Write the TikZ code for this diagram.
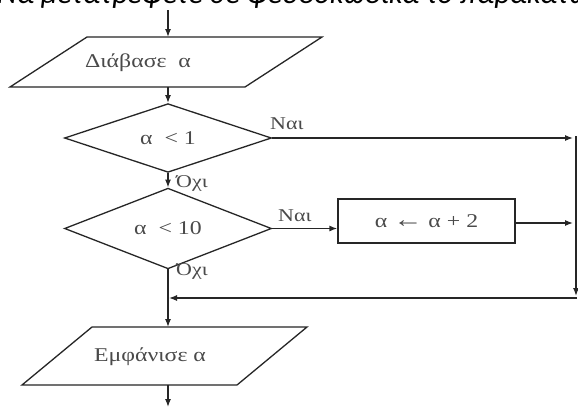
\documentclass[tikz,border=0pt]{standalone}
\usepackage{fontspec}
\setmainfont{Liberation Serif}
\newfontfamily\flowfont[FakeStretch=1.22]{Liberation Serif}
\newfontfamily\titlefont{Carlito}
\usetikzlibrary{shapes.geometric,arrows.meta}
\definecolor{linec}{HTML}{262626}
\definecolor{txtc}{HTML}{4a4a4a}
\begin{document}
\begin{tikzpicture}[x=1pt,y=-1pt,
  every node/.style={inner sep=0pt},
  flow/.style={font=\flowfont\fontsize{19.5}{22}\selectfont, text=txtc},
  lbl/.style={font=\flowfont\fontsize{18}{20}\selectfont, text=txtc},
  shapeline/.style={draw=linec, line width=1.3pt},
  arr/.style={draw=linec, line width=1.3pt, -{Latex[length=8pt,width=6pt]}},
  cond/.style={diamond, shapeline, flow, minimum width=207pt, minimum height=51pt},
  proc/.style={rectangle, shapeline, flow, minimum width=177pt, minimum height=44pt}]
\useasboundingbox (0,0) rectangle (578,407);
\fill[white] (0,0) rectangle (578,407);
\begin{scope}
\clip (0,0) rectangle (578,407);
\node[anchor=base west, font=\titlefont\itshape\fontsize{30.5}{36}\selectfont] (title) at (-3,3) {Να μετατρέψετε σε ψευδοκώδικα το παρακάτω};
\end{scope}
% input parallelogram
\draw[shapeline] (87,37) -- (322,37) -- (245,87) -- (10,87) -- cycle;
\coordinate (readn) at (168,37);
\coordinate (reads) at (168,87);
\node[flow] (readt) at (138,63) {Διάβασε\ \ α};
% decisions
\node[cond] (d1) at (168,138) {α \ < 1};
\node[cond] (d2) at (168,228.5) {α \ < 10};
\node[proc] (inc) at (426.5,221) {α {\fontsize{24}{24}\selectfont ←} α + 2};
% output parallelogram
\draw[shapeline] (92,327) -- (307,327) -- (237,385) -- (22,385) -- cycle;
\coordinate (shown) at (168,327);
\coordinate (shows) at (168,385);
\node[flow] (showt) at (150,357) {Εμφάνισε α};
% free ends
\coordinate (start) at (168,10);
\coordinate (stop) at (168,407);
\coordinate (rt1) at (573,138);
\coordinate (rt2) at (573,223);
\coordinate (vtop) at (576,136);
\coordinate (vbot) at (576,296);
\coordinate (hstart) at (577,298);
\coordinate (join) at (169,298);
% connectors
\draw[arr] (start) -- (readn);
\draw[arr] (reads) -- (d1.north);
\draw[arr] (d1.south) -- (d2.north);
\draw[arr] (d1.east) -- (rt1);
\draw[arr] (d2.east) -- (d2.east -| inc.west);
\draw[arr] (inc.east |- rt2) -- (rt2);
\draw[arr] (vtop) -- (vbot);
\draw[arr] (hstart) -- (join);
\draw[arr] (d2.south) -- (shown);
\draw[arr] (shows) -- (stop);
% labels
\node[lbl, anchor=west] (yes1) at (270,124) {Ναι};
\node[lbl, anchor=west] (no1) at (176,183) {Όχι};
\node[lbl, anchor=west] (yes2) at (278,216) {Ναι};
\node[lbl, anchor=west] (no2) at (176,271) {Όχι};
\end{tikzpicture}
\end{document}
